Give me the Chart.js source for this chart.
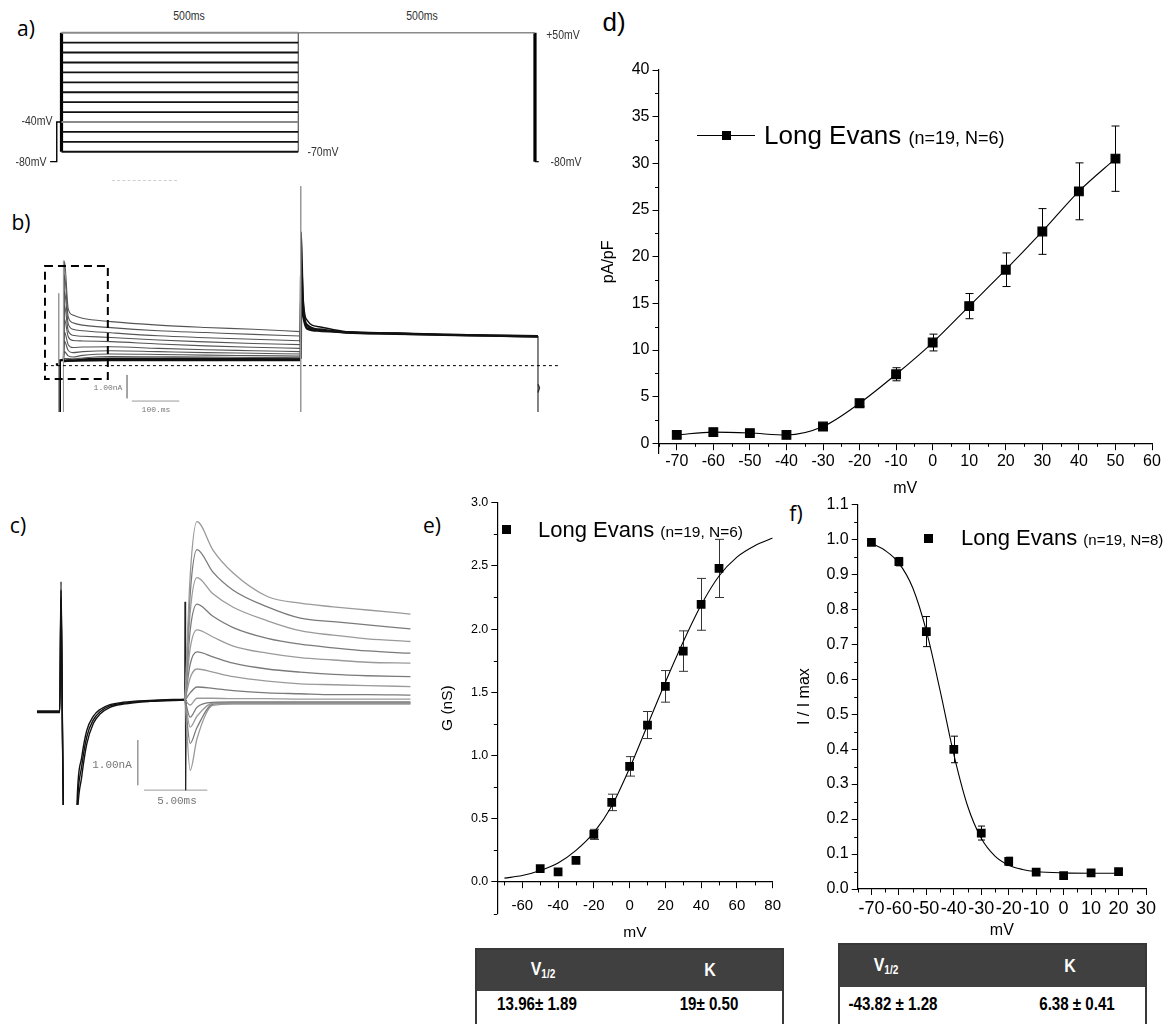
<!DOCTYPE html>
<html>
<head>
<meta charset="utf-8">
<title>Kv currents - Long Evans</title>
<script src="https://cdn.jsdelivr.net/npm/chart.js@4.4.1/dist/chart.umd.min.js"></script>
<style>
    body { margin: 0; background: #fff; }
    #fig { position: relative; width: 1170px; height: 1024px; overflow: hidden; background: #fff;
           font-family: 'Liberation Sans', Arial, sans-serif; color: #000; }
    canvas { position: absolute; }
    .c { position: absolute; white-space: nowrap; line-height: 1; transform: translate(-50%, -50%); }
    .l { position: absolute; white-space: nowrap; line-height: 1; transform: translateY(-50%); }
    .n { transform: translate(-50%, -50%) scaleX(0.84); }
    .panel { font-family: 'Open Sans', 'Noto Sans', sans-serif; font-size: 21px; }
    .proto { font-size: 12.5px; color: #333; }
    .mono { font-family: 'Liberation Mono', 'DejaVu Sans Mono', monospace; color: #777; }
    .sq { position: absolute; background: #000; }
    .tbl { position: absolute; border: 2px solid #383838; background: #fff; box-sizing: border-box; }
    .tbl .head { background: #404040; }
    .th { font-weight: bold; color: #fff; font-size: 19px; }
    .th sub { font-size: 12px; vertical-align: -3px; }
    .td { font-weight: bold; font-size: 18px; }
</style>
</head>
<body>
<div id="fig">
    <!-- panel labels -->
    <div class="c panel" style="left:26px;top:28px">a)</div>
    <div class="c panel" style="left:21px;top:222px">b)</div>
    <div class="c panel" style="left:18px;top:525px">c)</div>
    <div class="c" style="left:614px;top:22px;font-size:26px">d)</div>
    <div class="c panel" style="left:432px;top:525px">e)</div>
    <div class="c panel" style="left:796px;top:513px">f)</div>

    <!-- a) protocol -->
    <canvas id="protocolChart" width="510" height="145" style="left:40px;top:25px"></canvas>
    <div class="c n proto" style="left:189px;top:16px">500ms</div>
    <div class="c n proto" style="left:422px;top:16px">500ms</div>
    <div class="c n proto" style="left:563px;top:35px">+50mV</div>
    <div class="c n proto" style="left:566px;top:162px">-80mV</div>
    <div class="c n proto" style="left:323px;top:152px">-70mV</div>
    <div class="c n proto" style="left:37px;top:121px">-40mV</div>
    <div class="c n proto" style="left:31px;top:162px">-80mV</div>
    <div style="position:absolute;left:112px;top:180px;width:65px;border-top:1px dashed #cfcfcf"></div>

    <!-- b) whole sweep -->
    <canvas id="sweepChart" width="518" height="226" style="left:44px;top:186px"></canvas>
    <div class="c mono" style="left:108px;top:388px;font-size:8px">1.00nA</div>
    <div class="c mono" style="left:156px;top:410px;font-size:8px">100.ms</div>

    <!-- c) onset detail -->
    <canvas id="onsetChart" width="385" height="295" style="left:30px;top:510px"></canvas>
    <div class="c mono" style="left:112px;top:765px;font-size:11px">1.00nA</div>
    <div class="c mono" style="left:177px;top:801px;font-size:11px">5.00ms</div>

    <!-- d) I-V -->
    <canvas id="ivChart" width="575" height="445" style="left:595px;top:55px"></canvas>
    <div style="position:absolute;left:697px;top:135px;width:58px;border-top:1px solid #000"></div>
    <div class="sq" style="left:722px;top:131px;width:9px;height:9px"></div>
    <div class="l" style="left:764px;top:135px;font-size:26px">Long Evans <span style="font-size:18px">(n=19, N=6)</span></div>

    <!-- e) activation -->
    <canvas id="gvChart" width="356" height="450" style="left:434px;top:490px"></canvas>
    <div class="sq" style="left:502px;top:525px;width:9px;height:9px"></div>
    <div class="l" style="left:538px;top:530px;font-size:22px">Long Evans <span style="font-size:15.5px">(n=19, N=6)</span></div>

    <!-- f) inactivation -->
    <canvas id="inactChart" width="379" height="459" style="left:791px;top:490px"></canvas>
    <div class="sq" style="left:924px;top:534px;width:9px;height:9px"></div>
    <div class="l" style="left:961px;top:538px;font-size:22px">Long Evans <span style="font-size:15px">(n=19, N=8)</span></div>

    <!-- fit parameter tables -->
    <div class="tbl" style="left:475px;top:948px;width:309px;height:90px"><div class="head" style="height:41px"></div></div>
    <div class="c n th" style="left:543px;top:969px">V<sub>1/2</sub></div>
    <div class="c n th" style="left:710px;top:969px">K</div>
    <div class="c n td" style="left:537px;top:1004px">13.96± 1.89</div>
    <div class="c n td" style="left:709px;top:1004px">19± 0.50</div>

    <div class="tbl" style="left:838px;top:943px;width:309px;height:95px"><div class="head" style="height:42px"></div></div>
    <div class="c n th" style="left:886px;top:965px">V<sub>1/2</sub></div>
    <div class="c n th" style="left:1070px;top:965px">K</div>
    <div class="c n td" style="left:893px;top:1004px">-43.82 ± 1.28</div>
    <div class="c n td" style="left:1077px;top:1004px">6.38 ± 0.41</div>
</div>

<script>
// Voltage protocol (a)
const stepMv = [-70, -60, -50, -40, -30, -20, -10, 0, 10, 20, 30, 40, 50];
const holdMv = -80;
const prepulseMv = -40;
const testMv = 50;
const protocolMs = [0, 500, 1000];
const prepulseMs = [-24, -10];

// Whole sweep currents (b), nA
const bTimeMs = [0, 2, 10, 20, 40, 100, 200, 300, 400, 499];
const bCurrents = [
    [0.25, 4.50, 2.45, 2.17, 2.03, 1.89, 1.74, 1.64, 1.56, 1.46],
    [0.25, 3.90, 2.10, 1.84, 1.74, 1.63, 1.50, 1.42, 1.34, 1.27],
    [0.25, 3.20, 1.80, 1.56, 1.50, 1.41, 1.28, 1.20, 1.13, 1.07],
    [0.25, 2.60, 1.50, 1.30, 1.26, 1.21, 1.10, 1.02, 0.95, 0.90],
    [0.25, 2.00, 1.25, 1.08, 1.06, 1.03, 0.93, 0.85, 0.79, 0.74],
    [0.25, 1.45, 0.90, 0.78, 0.80, 0.81, 0.74, 0.68, 0.64, 0.60],
    [0.25, 1.05, 0.65, 0.56, 0.60, 0.64, 0.60, 0.56, 0.53, 0.50],
    [0.25, 0.60, 0.42, 0.37, 0.44, 0.50, 0.48, 0.45, 0.43, 0.41],
    [0.25, 0.30, 0.30, 0.29, 0.33, 0.39, 0.38, 0.37, 0.35, 0.34],
    [0.25, 0.22, 0.24, 0.25, 0.28, 0.31, 0.31, 0.31, 0.30, 0.30],
    [0.25, 0.20, 0.22, 0.23, 0.25, 0.27, 0.27, 0.27, 0.27, 0.27],
    [0.25, 0.20, 0.21, 0.22, 0.23, 0.24, 0.24, 0.24, 0.24, 0.24],
    [0.25, 0.18, 0.20, 0.21, 0.22, 0.23, 0.23, 0.23, 0.23, 0.23]
];
const bTestMs = [500, 501, 505, 513, 539, 596, 700, 800, 900, 1000];
const bTestCurrents = [
    [1.46, 5.74, 3.00, 1.96, 1.67, 1.46, 1.39, 1.33, 1.30, 1.27],
    [1.00, 4.20, 2.50, 1.75, 1.55, 1.43, 1.38, 1.33, 1.29, 1.26],
    [0.30, 3.00, 2.20, 1.60, 1.50, 1.42, 1.37, 1.32, 1.29, 1.25]
];
const bHoldMs = [-16, -8.5, -8, -7.5, -0.5];
const bHoldCurrents = [0.05, 0.05, -3, 0.22, 0.25];
const bSpikeMs = [-10, 0, 500];
const bSpikeTops = [3.1, 4.5, 7.7];

// Onset detail (c), nA
const cPreMs = [-1.9, -0.1, 0, 0.12, 0.3, 1.1, 1.29, 1.63, 2.03, 2.55, 3.08, 3.87, 4.92, 7.03, 9.8];
const cPreCurrents = [
    [0.00, 0.00, 2.89, -0.5, -4, -4, -2.07, -1.22, -0.56, -0.18, 0.00, 0.13, 0.19, 0.24, 0.27],
    [0.02, 0.02, 2.70, -0.6, -4, -4, -1.85, -1.02, -0.42, -0.10, 0.05, 0.16, 0.21, 0.25, 0.28],
    [-0.02, -0.02, 2.50, -0.7, -4, -4, -2.30, -1.45, -0.72, -0.26, -0.05, 0.10, 0.17, 0.23, 0.26]
];
const cCapMs = [9.76, 9.8, 9.84, 9.9];
const cCapCurrents = [0.27, 2.44, -1.74, 0.26];
const cTimeMs = [9.8, 10.2, 10.74, 12.0, 13.6, 16.3, 18.9, 21.5, 24.2, 27.6];
const cCurrents = [
    [0.26, 3.00, 4.22, 3.59, 3.08, 2.56, 2.41, 2.33, 2.26, 2.17],
    [0.26, 2.60, 3.60, 3.10, 2.70, 2.33, 2.08, 2.00, 1.93, 1.84],
    [0.26, 2.20, 2.98, 2.62, 2.32, 2.02, 1.80, 1.70, 1.62, 1.56],
    [0.26, 1.80, 2.39, 2.12, 1.87, 1.63, 1.50, 1.42, 1.35, 1.30],
    [0.26, 1.40, 1.82, 1.66, 1.46, 1.30, 1.20, 1.15, 1.10, 1.08],
    [0.26, 1.05, 1.33, 1.22, 1.08, 0.95, 0.88, 0.83, 0.80, 0.78],
    [0.26, 0.75, 0.95, 0.88, 0.78, 0.68, 0.62, 0.60, 0.58, 0.56],
    [0.26, 0.42, 0.55, 0.52, 0.47, 0.42, 0.40, 0.38, 0.38, 0.37],
    [0.26, 0.15, 0.30, 0.30, 0.29, 0.29, 0.28, 0.28, 0.28, 0.28],
    [0.26, -0.12, 0.10, 0.21, 0.22, 0.22, 0.22, 0.22, 0.22, 0.22],
    [0.26, -0.34, -0.10, 0.19, 0.20, 0.20, 0.20, 0.20, 0.20, 0.20],
    [0.26, -0.70, -0.35, 0.17, 0.19, 0.19, 0.19, 0.19, 0.19, 0.19],
    [0.26, -1.30, -0.60, 0.14, 0.17, 0.17, 0.17, 0.17, 0.17, 0.17]
];

// Current density (d), pA/pF
const dMv = [-70, -60, -50, -40, -30, -20, -10, 0, 10, 20, 30, 40, 50];
const dDensity = [0.9, 1.2, 1.1, 0.9, 1.8, 4.3, 7.4, 10.8, 14.7, 18.6, 22.7, 27.0, 30.5];
const dSem = [0, 0, 0, 0, 0.2, 0.35, 0.7, 0.9, 1.35, 1.8, 2.45, 3.05, 3.5];
const dXTicks = [-70, -60, -50, -40, -30, -20, -10, 0, 10, 20, 30, 40, 50, 60];
const dYTicks = [0, 5, 10, 15, 20, 25, 30, 35, 40];

// Conductance (e), nS
const eMv = [-50, -40, -30, -20, -10, 0, 10, 20, 30, 40, 50];
const eG = [0.105, 0.079, 0.171, 0.376, 0.629, 0.914, 1.241, 1.547, 1.826, 2.196, 2.48];
const eSem = [0, 0, 0, 0.04, 0.065, 0.077, 0.107, 0.125, 0.16, 0.205, 0.23];
const eFitMv = [-70, -60, -50, -40, -30, -20, -10, 0, 10, 20, 30, 40, 50, 60, 70, 80];
const eFitG = [0.03, 0.05, 0.09, 0.15, 0.25, 0.39, 0.60, 0.90, 1.24, 1.58, 1.90, 2.19, 2.42, 2.57, 2.66, 2.72];
const eXTicks = [-60, -40, -20, 0, 20, 40, 60, 80];
const eYTicks = [0, 0.5, 1.0, 1.5, 2.0, 2.5, 3.0];

// Steady-state inactivation (f), I / I max
const fMv = [-70, -60, -50, -40, -30, -20, -10, 0, 10, 20];
const fRatio = [0.991, 0.936, 0.736, 0.399, 0.16, 0.079, 0.048, 0.038, 0.046, 0.05];
const fSem = [0.005, 0.012, 0.043, 0.038, 0.02, 0.012, 0.006, 0.004, 0.005, 0.006];
const fFitMv = [-70, -65, -60, -55, -50, -45, -40, -35, -30, -25, -20, -15, -10, 0, 10, 20];
const fFitRatio = [0.988, 0.968, 0.932, 0.862, 0.738, 0.568, 0.385, 0.238, 0.145, 0.094, 0.068, 0.056, 0.05, 0.046, 0.045, 0.045];
const fXTicks = [-70, -60, -50, -40, -30, -20, -10, 0, 10, 20, 30];
const fYTicks = [0, 0.1, 0.2, 0.3, 0.4, 0.5, 0.6, 0.7, 0.8, 0.9, 1.0, 1.1];

// Chart defaults
Chart.defaults.animation = false;
Chart.defaults.events = [];
Chart.defaults.font.family = "'Liberation Sans', Arial, sans-serif";
Chart.defaults.color = '#000';
Chart.defaults.plugins.legend.display = false;
Chart.defaults.plugins.tooltip.enabled = false;

const xy = (xs, ys) => xs.map((x, i) => ({ x, y: ys[i] }));

function line(data, color, width, extra) {
    return Object.assign({ data, borderColor: color, borderWidth: width, pointRadius: 0, fill: false, showLine: true }, extra);
}

// Plugins
const minorTicks = {
    id: 'minorTicks',
    afterDraw(chart, args, opts) {
        const { ctx, scales: { x, y } } = chart;
        const baseY = opts.xAt === undefined ? y.bottom : y.getPixelForValue(opts.xAt);
        ctx.save();
        ctx.strokeStyle = '#000';
        ctx.lineWidth = 1;
        ctx.beginPath();
        for (let v = opts.x[0]; v <= opts.x[1] + 1e-9; v += opts.x[2]) {
            const px = Math.round(x.getPixelForValue(v)) + 0.5;
            ctx.moveTo(px, baseY);
            ctx.lineTo(px, baseY + opts.len);
        }
        for (let v = opts.y[0]; v <= opts.y[1] + 1e-9; v += opts.y[2]) {
            const py = Math.round(y.getPixelForValue(v)) + 0.5;
            ctx.moveTo(x.left, py);
            ctx.lineTo(x.left - opts.len, py);
        }
        ctx.stroke();
        ctx.restore();
    }
};

const errorBars = {
    id: 'errorBars',
    beforeDatasetsDraw(chart) {
        const { ctx, scales: { y } } = chart;
        chart.data.datasets.forEach((ds, i) => {
            if (!ds.errors) return;
            const meta = chart.getDatasetMeta(i);
            ctx.save();
            ctx.strokeStyle = ds.errorColor || '#000';
            ctx.lineWidth = 1;
            ctx.beginPath();
            meta.data.forEach((pt, j) => {
                const err = ds.errors[j];
                if (!err) return;
                const v = ds.data[j].y;
                const top = y.getPixelForValue(v + err);
                const bot = y.getPixelForValue(v - err);
                const px = Math.round(pt.x) + 0.5;
                ctx.moveTo(px, top); ctx.lineTo(px, bot);
                ctx.moveTo(px - ds.capHalf, top); ctx.lineTo(px + ds.capHalf, top);
                ctx.moveTo(px - ds.capHalf, bot); ctx.lineTo(px + ds.capHalf, bot);
            });
            ctx.stroke();
            ctx.restore();
        });
    }
};

const zoomBox = {
    id: 'zoomBox',
    afterDatasetsDraw(chart, args, opts) {
        if (!opts.show) return;
        const { ctx, scales: { x, y } } = chart;
        const l = x.getPixelForValue(opts.fromMs), r = x.getPixelForValue(opts.toMs);
        const t = y.getPixelForValue(opts.highNa), b = y.getPixelForValue(opts.lowNa);
        ctx.save();
        ctx.setLineDash([8, 5]);
        ctx.lineWidth = 2;
        ctx.strokeStyle = '#000';
        ctx.strokeRect(l, t, r - l, b - t);
        ctx.restore();
    }
};

function traceChart(id, xr, yr, datasets, pluginOpts) {
    return new Chart(document.getElementById(id), {
        type: 'scatter',
        data: { datasets },
        options: {
            responsive: false,
            layout: { padding: 0 },
            scales: {
                x: { type: 'linear', min: xr[0], max: xr[1], display: false },
                y: { type: 'linear', min: yr[0], max: yr[1], display: false }
            },
            plugins: Object.assign({ zoomBox: { show: false } }, pluginOpts || {})
        },
        plugins: [zoomBox]
    });
}

// Panel a: protocol
const protocolSets = stepMv.map(v => line(
    [{ x: protocolMs[0], y: v }, { x: protocolMs[1], y: v }],
    (v === testMv || v === prepulseMv) ? '#8a8a8a' : '#111', 1.9));
protocolSets.push(line([{ x: protocolMs[1], y: stepMv[0] }, { x: protocolMs[1], y: testMv }], '#333', 1));
protocolSets.push(line([{ x: protocolMs[0], y: stepMv[0] }, { x: protocolMs[0], y: testMv }], '#000', 3.2));
protocolSets.push(line([
    { x: prepulseMs[0], y: holdMv }, { x: prepulseMs[1], y: holdMv },
    { x: prepulseMs[1], y: prepulseMv }, { x: protocolMs[0], y: prepulseMv }], '#000', 1.4));
protocolSets.push(line([{ x: protocolMs[1], y: testMv }, { x: protocolMs[2], y: testMv }], '#8a8a8a', 1.6));
protocolSets.push(line([{ x: protocolMs[2], y: testMv }, { x: protocolMs[2], y: holdMv }], '#000', 3.2));
protocolSets.push(line([{ x: protocolMs[2], y: holdMv }, { x: protocolMs[2] + 8, y: holdMv }], '#000', 1.2));
traceChart('protocolChart', [-45.4, 1031.7], [-88.4, 57.8], protocolSets);

// Panel b: full sweep
const sweepSets = [];
sweepSets.push(line([{ x: -39, y: 0 }, { x: 1046, y: 0 }], '#000', 1, { borderDash: [3, 3] }));
bSpikeMs.forEach((t, i) => sweepSets.push(line([{ x: t, y: bSpikeTops[i] }, { x: t, y: -3 }], '#9a9a9a', 1)));
bCurrents.forEach((tr, i) => sweepSets.push(line(xy(bTimeMs, tr), i > 8 ? '#111' : '#555', i > 8 ? 1.8 : 1.1,
    { cubicInterpolationMode: 'monotone' })));
bTestCurrents.forEach((tr, i) => sweepSets.push(line(xy(bTestMs, tr), '#111', i === 0 ? 1.4 : 2.4,
    { cubicInterpolationMode: 'monotone' })));
sweepSets.push(line(xy(bHoldMs, bHoldCurrents), '#000', 2.4));
sweepSets.push(line([{ x: 1000, y: bTestCurrents[0][9] }, { x: 1000, y: -3 }], '#333', 1.2));
sweepSets.push(line([{ x: 1000, y: -0.8 }, { x: 1003, y: -0.95 }, { x: 1000, y: -1.15 }], '#333', 1.5));
// 1 nA / 100 ms scale bars
sweepSets.push(line([{ x: 134, y: -0.4 }, { x: 134, y: -1.4 }], '#999', 1));
sweepSets.push(line([{ x: 144, y: -1.52 }, { x: 244, y: -1.52 }], '#999', 1));
traceChart('sweepChart', [-41, 1050.6], [-1.99, 7.71], sweepSets,
    { zoomBox: { show: true, fromMs: -39, toMs: 93.5, lowNa: -0.57, highNa: 4.28 } });

// Panel c: onset of the test step
const onsetSets = [];
cCurrents.forEach((tr, i) => onsetSets.push(line(xy(cTimeMs, tr), i % 2 ? '#7a7a7a' : '#9a9a9a', 1.3,
    { cubicInterpolationMode: 'monotone' })));
cPreCurrents.forEach(tr => onsetSets.push(line(xy(cPreMs, tr), '#111', 1.4, { cubicInterpolationMode: 'monotone' })));
onsetSets.push(line(xy(cCapMs, cCapCurrents), '#222', 1));
// 1 nA / 5 ms scale bars
onsetSets.push(line([{ x: 6.06, y: -0.63 }, { x: 6.06, y: -1.63 }], '#999', 1));
onsetSets.push(line([{ x: 6.56, y: -1.74 }, { x: 11.56, y: -1.74 }], '#999', 1));
traceChart('onsetChart', [-2.45, 27.96], [-2.07, 4.48], onsetSets);

// Shared axis builder for d, e, f
function axis(min, max, ticks, size, extra, fmt) {
    return Object.assign({
        type: 'linear', min, max,
        afterBuildTicks: ax => { ax.ticks = ticks.map(v => ({ value: v })); },
        grid: { drawOnChartArea: false, drawTicks: true, tickLength: 6, color: '#000', lineWidth: 1 },
        border: { display: true, color: '#000', width: 1.2 },
        ticks: { font: { size }, color: '#000', padding: 3, autoSkip: false, maxRotation: 0, minRotation: 0,
                 callback: fmt || (v => String(v)) }
    }, extra);
}

function title(text, size, padTop) {
    return { display: true, text, color: '#000', font: { size }, padding: { top: padTop === undefined ? 4 : padTop, bottom: 4 } };
}

function points(xs, ys, errs, cap, errColor) {
    return {
        data: xy(xs, ys), errors: errs, capHalf: cap, errorColor: errColor,
        pointStyle: 'rect', pointRadius: 6.2, backgroundColor: '#000', borderWidth: 0, showLine: false
    };
}

const oneDecimal = v => v.toFixed(1);

// Panel d: current density
const dSet = points(dMv, dDensity, dSem, 4, '#000');
Object.assign(dSet, { showLine: true, borderColor: '#000', borderWidth: 1.1, cubicInterpolationMode: 'monotone' });
new Chart(document.getElementById('ivChart'), {
    type: 'scatter',
    data: { datasets: [dSet] },
    options: {
        responsive: false,
        layout: { padding: { top: 15, right: 18, bottom: 46.4, left: 0 } },
        scales: {
            x: axis(-75, 60, dXTicks, 16, { position: { y: 0 }, title: title('mV', 16) }),
            y: axis(-1.1, 40, dYTicks, 16, { title: title('pA/pF', 16), afterFit: ax => { ax.width = 63.5; } })
        },
        plugins: { minorTicks: { x: [-75, 55, 10], y: [2.5, 37.5, 5], len: 3.5, xAt: 0 } }
    },
    plugins: [errorBars, minorTicks]
});

// Panel e: conductance
const ePoints = points(eMv, eG, eSem, 4.5, '#333');
const eFit = line(xy(eFitMv, eFitG), '#000', 1.1, { cubicInterpolationMode: 'monotone' });
const eX = axis(-74, 80, eXTicks, 15, { position: { y: 0 }, title: title('mV', 15.5, 0) });
eX.ticks.padding = 9;
new Chart(document.getElementById('gvChart'), {
    type: 'scatter',
    data: { datasets: [ePoints, eFit] },
    options: {
        responsive: false,
        layout: { padding: { top: 12.7, right: 17, bottom: 26.5, left: 0 } },
        scales: {
            x: eX,
            y: axis(-0.25, 3.0, eYTicks, 12.5, { title: title('G (nS)', 15.5), afterFit: ax => { ax.width = 63.3; } }, oneDecimal)
        },
        plugins: { minorTicks: { x: [-70, 70, 20], y: [-0.25, 2.75, 0.5], len: 3.5, xAt: 0 } }
    },
    plugins: [errorBars, minorTicks]
});

// Panel f: inactivation
const fPoints = points(fMv, fRatio, fSem, 3.5, '#000');
const fFit = line(xy(fFitMv, fFitRatio), '#000', 1.1, { cubicInterpolationMode: 'monotone' });
new Chart(document.getElementById('inactChart'), {
    type: 'scatter',
    data: { datasets: [fPoints, fFit] },
    options: {
        responsive: false,
        layout: { padding: { top: 14.3, right: 24, bottom: 5, left: 0 } },
        scales: {
            x: axis(-75, 30, fXTicks, 18, { title: title('mV', 16), afterFit: ax => { ax.height = 55; } }),
            y: axis(0, 1.1, fYTicks, 16, { title: title('I / I max', 16), afterFit: ax => { ax.width = 66.7; } }, oneDecimal)
        },
        plugins: { minorTicks: { x: [-75, 25, 10], y: [0.05, 1.05, 0.1], len: 3.5 } }
    },
    plugins: [errorBars, minorTicks]
});
</script>
</body>
</html>
